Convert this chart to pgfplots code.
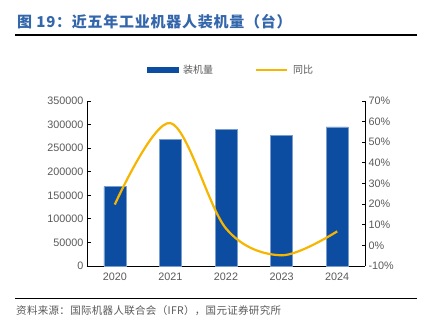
\documentclass[border=0pt]{standalone}
\usepackage{pgfplots}
\pgfplotsset{compat=1.18}
\usepackage{fontspec}
\setmainfont{Liberation Sans}
\newfontfamily\cjk{Noto Sans CJK SC}
\newfontfamily\cjktitle[LetterSpace=5]{Noto Sans CJK SC}
\newfontfamily\cjksrc[LetterSpace=3]{Noto Sans CJK SC}
\definecolor{barblue}{HTML}{0C4DA2}
\definecolor{gold}{HTML}{F7B500}
\definecolor{titleblue}{HTML}{3366AA}
\definecolor{tickgray}{HTML}{595959}
\begin{document}
\begin{tikzpicture}
\path[use as bounding box] (0pt,0pt) rectangle (423pt,325pt);
\node[anchor=west, inner sep=0pt, text=titleblue, font=\cjktitle\bfseries\fontsize{15}{17}\selectfont] at (17pt,303pt) {图 19：近五年工业机器人装机量（台）};
\draw[line width=1.3pt] (15pt,290pt) -- (417pt,290pt);
\draw[line width=1.3pt] (15pt,26.7pt) -- (417pt,26.7pt);
\node[anchor=west, inner sep=0pt, text=tickgray, font=\cjksrc\fontsize{10.5}{12}\selectfont] at (16pt,14pt) {资料来源：国际机器人联合会（IFR），国元证券研究所};

\pgfplotsset{
  common/.style={
    at={(87pt,59pt)}, anchor=south west, scale only axis,
    width=278pt, height=165pt,
    xmin=-0.5, xmax=4.5,
    tick align=inside,
    major tick length=3.5pt,
    tick style={black, line width=0.8pt},
    axis line style={black, line width=0.9pt},
    ticklabel style={text=tickgray, font=\fontsize{10.8}{12}\selectfont},
    /pgf/number format/assume math mode=true,
  }
}
\begin{axis}[common,
  ymin=0, ymax=350000,
  axis x line*=bottom, axis y line*=left,
  xtick={0,1,2,3,4},
  xticklabels={2020,2021,2022,2023,2024},
  x tick style={draw=none},
  extra x ticks={0.5,1.5,2.5,3.5},
  extra x tick labels={},
  extra x tick style={tick style={black, line width=0.8pt}},
  ytick={0,50000,...,350000},
  scaled y ticks=false,
  yticklabel style={/pgf/number format/fixed, /pgf/number format/1000 sep={}},
  ybar, bar width=22pt,
]
\addplot[fill=barblue, draw=barblue!55!white, line width=0.6pt, bar shift=0pt] coordinates {
 (0,168400) (1,268200) (2,290300) (3,276300) (4,295000)};
\end{axis}

\begin{axis}[common,
  ymin=-10, ymax=70,
  axis x line=none, axis y line*=right,
  ytick={-10,0,...,70},
  yticklabel={\pgfmathprintnumber{\tick}\%},
  legend style={at={(0.518,1.188)}, anchor=center, draw=none, fill=none,
    legend columns=2, font=\cjk\fontsize{10}{12}\selectfont, text=tickgray,
    /tikz/every odd column/.append style={column sep=3pt},
    /tikz/every even column/.append style={column sep=40pt}},
  legend cell align=left,
]
\addlegendimage{legend image code/.code={\fill[barblue] (0pt,-2.7pt) rectangle (31pt,2.7pt);}}
\addlegendentry{装机量}
\addplot[gold, line width=2.2pt, smooth, tension=0.55,
  legend image code/.code={\draw[gold, line width=2pt] (0pt,0pt) -- (31pt,0pt);}]
  coordinates {(0,19.8) (1,59.3) (2,8.2) (3,-4.8) (4,6.8)};
\addlegendentry{同比}
\end{axis}
\end{tikzpicture}
\end{document}
